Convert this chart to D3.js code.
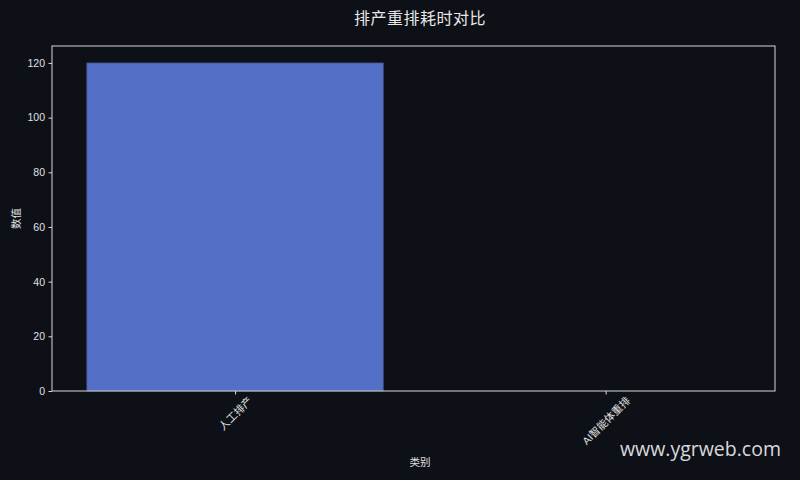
<!DOCTYPE html>
<html><head><meta charset="utf-8">
<script src="https://cdn.jsdelivr.net/npm/d3@7"></script>
<style>
html,body{margin:0;padding:0;background:#0d1017;}
svg{display:block;}
</style></head>
<body>
<svg id="c" width="800" height="480"></svg>
<script>
const categories = ["人工排产", "AI智能体重排"];
const values = [120, 0];
const yTicks = [0, 20, 40, 60, 80, 100, 120];
const title = "排产重排耗时对比";
const xLabel = "类别";
const yLabel = "数值";
const watermark = "www.ygrweb.com";

const W = 800, H = 480;
const m = {left: 52, right: 25, top: 46, bottom: 89};
const fontCJK = "'Liberation Sans','Noto Sans CJK SC',sans-serif";
const txt = "#e0e0e0";
const svg = d3.select("#c");
svg.append("rect").attr("width", W).attr("height", H).attr("fill", "#0d1017");

const x = d3.scaleLinear().domain([-0.494, 1.457]).range([m.left, W - m.right]);
const y = d3.scaleLinear().domain([0, 126.2]).range([H - m.bottom, m.top]);
const bw = 0.8;

const g = svg.append("g");
g.selectAll("rect.bar").data(values).enter().append("rect")
  .attr("class", "bar")
  .attr("x", (d, i) => x(i - bw / 2))
  .attr("width", (d, i) => x(i + bw / 2) - x(i - bw / 2))
  .attr("y", d => y(d))
  .attr("height", d => y(0) - y(d))
  .attr("fill", "#5470c6")
  .attr("stroke", "#3e4f86").attr("stroke-width", 0.8);

// frame
g.append("rect").attr("x", m.left).attr("y", m.top)
  .attr("width", W - m.left - m.right).attr("height", H - m.top - m.bottom)
  .attr("fill", "none").attr("stroke", "#d8d8d8").attr("stroke-width", 1);

// y axis
const ya = svg.append("g").attr("transform", `translate(${m.left},0)`)
  .call(d3.axisLeft(y).tickValues(yTicks).tickSize(3.5).tickPadding(3.5));
ya.select(".domain").remove();
ya.selectAll("line").attr("stroke", "#d8d8d8");
ya.selectAll("text").attr("fill", txt).style("font-family", fontCJK).style("font-size", "10.5px");

// x axis
const xa = svg.append("g").attr("transform", `translate(0,${H - m.bottom})`)
  .call(d3.axisBottom(x).tickValues(categories.map((c, i) => i)).tickSize(3.5).tickFormat(i => categories[i]));
xa.select(".domain").remove();
xa.selectAll("line").attr("stroke", "#d8d8d8");
xa.selectAll("text").attr("fill", txt).style("font-family", fontCJK).style("font-size", "10.5px")
  .attr("text-anchor", "middle").attr("dy", "0.35em")
  .each(function () {
    const t = d3.select(this);
    const w = this.getComputedTextLength();
    const h = 10.5;
    const bb = (w + h) * Math.SQRT1_2;
    t.attr("y", 0).attr("transform", `translate(0,${4 + bb / 2}) rotate(-45)`);
  });

// labels
svg.append("text").attr("x", 420).attr("y", 23.5).attr("text-anchor", "middle")
  .attr("fill", "#e8e8e8").style("font-family", fontCJK).style("font-size", "16px")
  .style("letter-spacing", "0.5px").text(title);
svg.append("text").attr("x", 420).attr("y", 466).attr("text-anchor", "middle")
  .attr("fill", txt).style("font-family", fontCJK).style("font-size", "10.5px").text(xLabel);
svg.append("text").attr("transform", `translate(20,${(m.top + H - m.bottom) / 2}) rotate(-90)`)
  .attr("text-anchor", "middle")
  .attr("fill", txt).style("font-family", fontCJK).style("font-size", "10.5px").text(yLabel);

svg.append("text").attr("x", 781).attr("y", 456).attr("text-anchor", "end")
  .attr("fill", "#ffffff").attr("fill-opacity", 0.85)
  .style("font-family", "'Open Sans','Noto Sans',sans-serif").style("font-size", "19.5px").text(watermark);
</script>
</body></html>
